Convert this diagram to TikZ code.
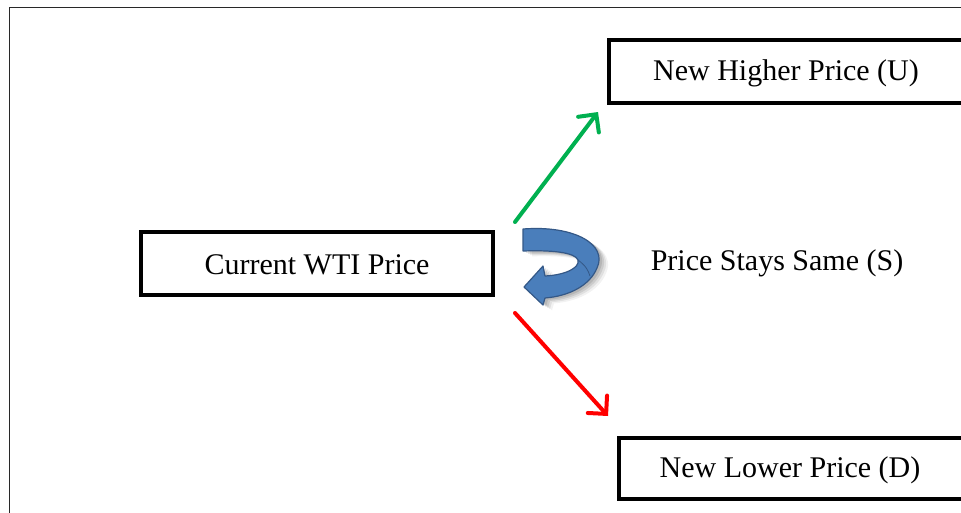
\documentclass[tikz,border=0pt]{standalone}
\usepackage{fontspec}
\setmainfont{Liberation Serif}
\usetikzlibrary{arrows.meta}
\definecolor{arrgreen}{RGB}{0,176,80}
\definecolor{arrred}{RGB}{255,0,0}
\definecolor{curvefill}{RGB}{74,126,187}
\definecolor{curvedraw}{RGB}{52,88,135}
\definecolor{framegray}{RGB}{40,40,40}
\tikzset{
  pricebox/.style={draw=black, line width=4pt, fill=white, inner sep=0pt},
  lbl/.style={font=\fontsize{30}{35}\selectfont, text=black},
  movearrow/.style={line width=4pt, line cap=round, -{Straight Barb[length=13pt,width=26pt,line cap=round]}},
}
\begin{document}
\begin{tikzpicture}[x=1pt,y=-1pt]
\useasboundingbox (0,0) rectangle (961,512);
\fill[white] (0,0) rectangle (961,512);
% outer frame
\draw[framegray, line width=1.5pt] (9.5,520) -- (9.5,7.5) -- (975,7.5);
% boxes
\node[pricebox, minimum width=352pt, minimum height=63pt] (cur) at (317,263.5) {};
\node[lbl] (curt) at (317,265) {Current WTI Price};
\node[pricebox, minimum width=354pt, minimum height=63pt] (up) at (786,71.5) {};
\node[lbl] (upt) at (786,73) {New Higher Price (U)};
\node[pricebox, minimum width=344pt, minimum height=61pt] (dn) at (791,468) {};
\node[lbl] (dnt) at (790,470) {New Lower Price (D)};
\node[lbl] (same) at (777,263) {Price Stays Same (S)};
% arrow anchors
\coordinate (gs) at (515,222);
\coordinate (ge) at (598,112);
\coordinate (rs) at (515,313);
\coordinate (re) at (608,416);
\draw[movearrow, arrgreen] (gs) -- (ge);
\draw[movearrow, arrred] (rs) -- (re);
% curved "stays same" arrow with soft shadow
\foreach \dx/\op in {9/0.05,7/0.07,5/0.09,3/0.1}{
  \fill[black, opacity=\op, shift={(\dx,\dx*0.6)}]
    (523,229) .. controls (575,225) and (608,245) .. (597,268)
    .. controls (590,285) and (570,296) .. (545,298) -- (543,305) -- (524,287)
    -- (543,266) -- (545,276) .. controls (565,275) and (580,268) .. (578,260)
    .. controls (575,252) and (550,250) .. (523,251) -- cycle;
}
\path[fill=curvefill, draw=curvedraw, line width=1.2pt, line join=round]
    (523,229) .. controls (575,225) and (608,245) .. (597,268)
    .. controls (590,285) and (570,296) .. (545,298) -- (543,305) -- (524,287)
    -- (543,266) -- (545,276) .. controls (565,275) and (580,268) .. (578,260)
    .. controls (575,252) and (550,250) .. (523,251) -- cycle;
\draw[curvedraw, line width=0.8pt] (578,260) .. controls (586,266) and (588,270) .. (590,276);
\end{tikzpicture}
\end{document}
